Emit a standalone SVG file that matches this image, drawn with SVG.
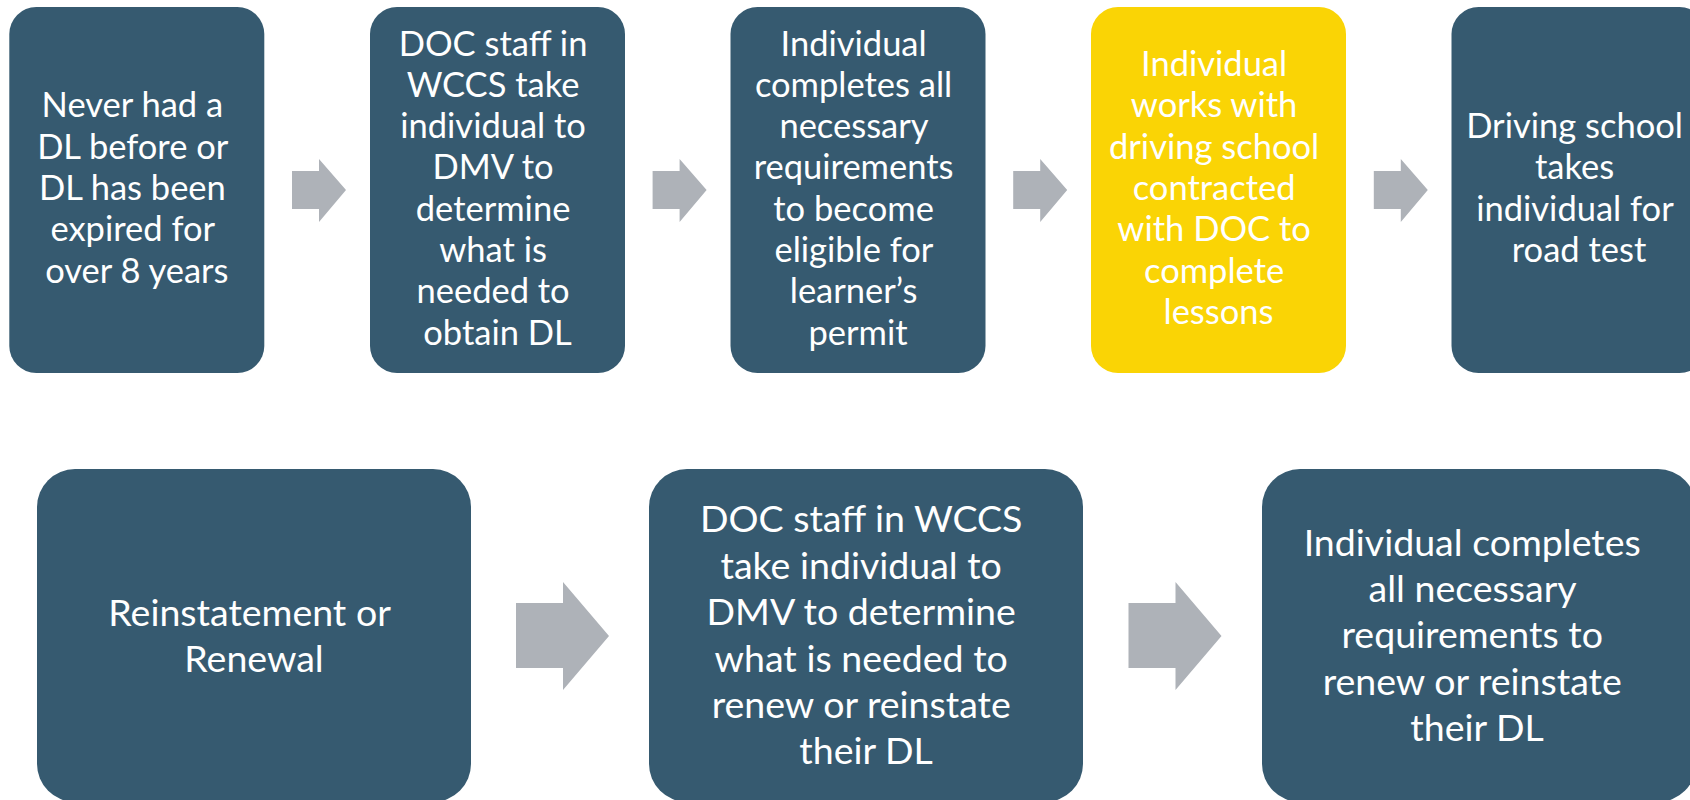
<svg xmlns="http://www.w3.org/2000/svg" width="1690" height="800" viewBox="0 0 1690 800">
  <defs>
    <style>
      .box { fill: #365A70; }
      .hl { fill: #FAD405; }
      .arrow { fill: #AEB2B8; }
      .t { fill: #FFFFFF; font-family: Lato, "Open Sans", "Liberation Sans", sans-serif; text-anchor: middle; }
      .top { font-size: 34.5px; }
      .bot { font-size: 37.5px; }
    </style>
    <polygon id="arrTop" points="0,12 27,12 27,0 54,31 27,63 27,50 0,50"/>
    <polygon id="arrBot" points="0,21 47,21 47,0 93,54 47,108 47,86 0,86"/>
  </defs>
  <rect width="1690" height="800" fill="#FFFFFF"/>

  <g id="connectors">
    <use href="#arrTop" class="arrow" x="292" y="159"/>
    <use href="#arrTop" class="arrow" x="652.6" y="159"/>
    <use href="#arrTop" class="arrow" x="1013.2" y="159"/>
    <use href="#arrTop" class="arrow" x="1373.8" y="159"/>
    <use href="#arrBot" class="arrow" x="516" y="582"/>
    <use href="#arrBot" class="arrow" x="1128.5" y="582"/>
  </g>

  <g id="node-never-had">
    <rect class="box" x="9.3" y="7" width="255" height="366" rx="27" ry="27"/>
    <text class="t top">
      <tspan x="136.8" y="117.4">Never had a</tspan>
      <tspan x="136.8" y="158.7">DL before or</tspan>
      <tspan x="136.8" y="200">DL has been</tspan>
      <tspan x="136.8" y="241.3">expired for</tspan>
      <tspan x="136.8" y="282.6">over 8 years</tspan>
    </text>
  </g>

  <g id="node-doc-staff-obtain">
    <rect class="box" x="370" y="7" width="255" height="366" rx="27" ry="27"/>
    <text class="t top">
      <tspan x="497.5" y="55.5">DOC staff in</tspan>
      <tspan x="497.5" y="96.8">WCCS take</tspan>
      <tspan x="497.5" y="138.1">individual to</tspan>
      <tspan x="497.5" y="179.4">DMV to</tspan>
      <tspan x="497.5" y="220.6">determine</tspan>
      <tspan x="497.5" y="261.9">what is</tspan>
      <tspan x="497.5" y="303.2">needed to</tspan>
      <tspan x="497.5" y="344.5">obtain DL</tspan>
    </text>
  </g>

  <g id="node-completes-permit">
    <rect class="box" x="730.5" y="7" width="255" height="366" rx="27" ry="27"/>
    <text class="t top">
      <tspan x="858" y="55.5">Individual</tspan>
      <tspan x="858" y="96.8">completes all</tspan>
      <tspan x="858" y="138.1">necessary</tspan>
      <tspan x="858" y="179.4">requirements</tspan>
      <tspan x="858" y="220.6">to become</tspan>
      <tspan x="858" y="261.9">eligible for</tspan>
      <tspan x="858" y="303.2">learner’s</tspan>
      <tspan x="858" y="344.5">permit</tspan>
    </text>
  </g>

  <g id="node-driving-school-lessons">
    <rect class="hl" x="1091" y="7" width="255" height="366" rx="27" ry="27"/>
    <text class="t top">
      <tspan x="1218.5" y="76.1">Individual</tspan>
      <tspan x="1218.5" y="117.4">works with</tspan>
      <tspan x="1218.5" y="158.7">driving school</tspan>
      <tspan x="1218.5" y="200">contracted</tspan>
      <tspan x="1218.5" y="241.3">with DOC to</tspan>
      <tspan x="1218.5" y="282.6">complete</tspan>
      <tspan x="1218.5" y="323.9">lessons</tspan>
    </text>
  </g>

  <g id="node-road-test">
    <rect class="box" x="1451.5" y="7" width="255" height="366" rx="27" ry="27"/>
    <text class="t top">
      <tspan x="1579" y="138">Driving school</tspan>
      <tspan x="1579" y="179.3">takes</tspan>
      <tspan x="1579" y="220.7">individual for</tspan>
      <tspan x="1579" y="262">road test</tspan>
    </text>
  </g>

  <g id="node-reinstatement">
    <rect class="box" x="37" y="469" width="434" height="333" rx="38" ry="38"/>
    <text class="t bot">
      <tspan x="254" y="625.5">Reinstatement or</tspan>
      <tspan x="254" y="671.7">Renewal</tspan>
    </text>
  </g>

  <g id="node-doc-staff-renew">
    <rect class="box" x="649" y="469" width="434" height="333" rx="38" ry="38"/>
    <text class="t bot">
      <tspan x="866" y="532.4">DOC staff in WCCS</tspan>
      <tspan x="866" y="578.8">take individual to</tspan>
      <tspan x="866" y="625.2">DMV to determine</tspan>
      <tspan x="866" y="671.6">what is needed to</tspan>
      <tspan x="866" y="718">renew or reinstate</tspan>
      <tspan x="866" y="764.4">their DL</tspan>
    </text>
  </g>

  <g id="node-completes-renew">
    <rect class="box" x="1262" y="469" width="434" height="333" rx="38" ry="38"/>
    <text class="t bot">
      <tspan x="1477" y="555.6">Individual completes</tspan>
      <tspan x="1477" y="602">all necessary</tspan>
      <tspan x="1477" y="648.4">requirements to</tspan>
      <tspan x="1477" y="694.8">renew or reinstate</tspan>
      <tspan x="1477" y="741.2">their DL</tspan>
    </text>
  </g>
</svg>
